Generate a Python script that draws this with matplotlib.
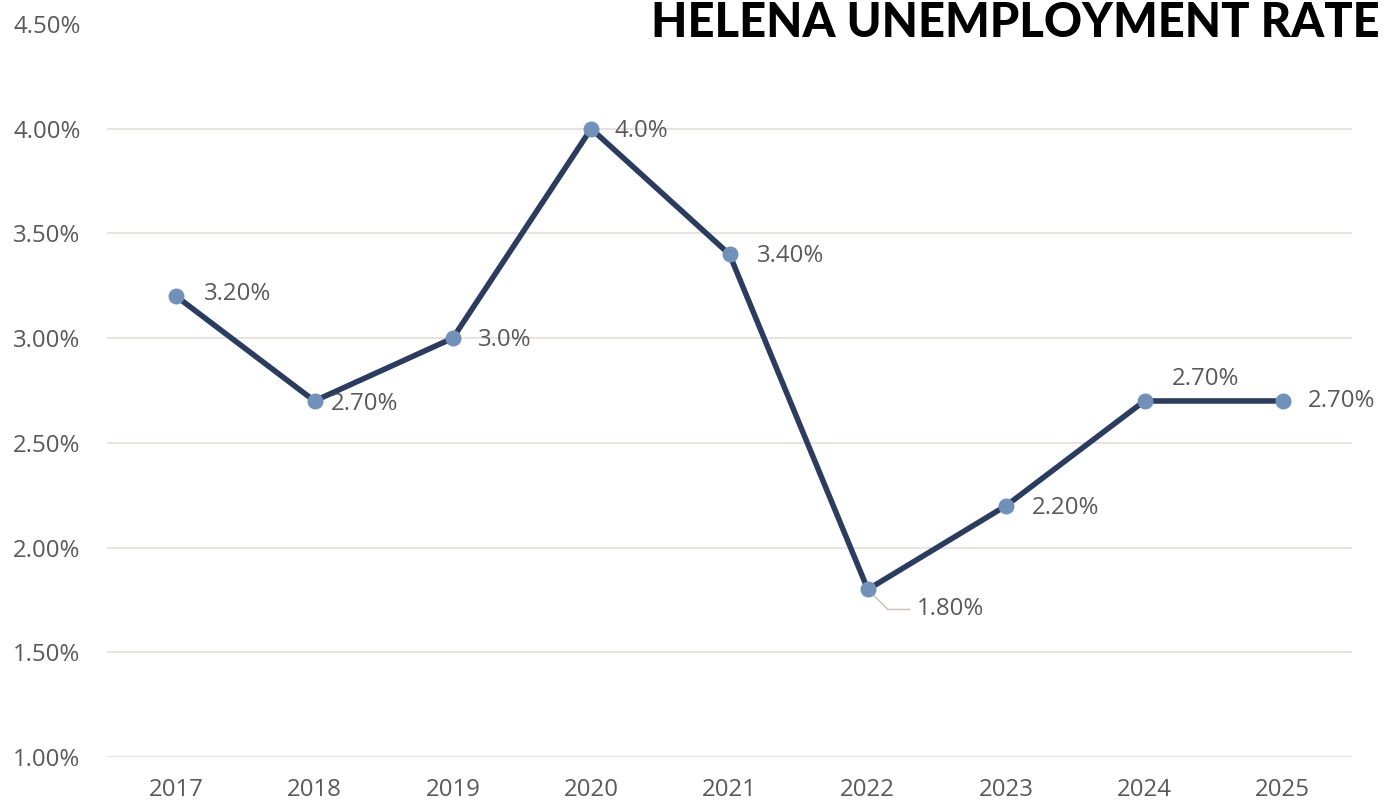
import matplotlib
matplotlib.use("Agg")
import matplotlib.pyplot as plt

years = ["2017", "2018", "2019", "2020", "2021", "2022", "2023", "2024", "2025"]
rates = [3.2, 2.7, 3.0, 4.0, 3.4, 1.8, 2.2, 2.7, 2.7]
labels = ["3.20%", "2.70%", "3.0%", "4.0%", "3.40%", "1.80%", "2.20%", "2.70%", "2.70%"]
yticks = [1.0, 1.5, 2.0, 2.5, 3.0, 3.5, 4.0, 4.5]
ytick_labels = ["1.00%", "1.50%", "2.00%", "2.50%", "3.00%", "3.50%", "4.00%", "4.50%"]
title = "HELENA UNEMPLOYMENT RATE"

FS = 17.3
fig = plt.figure(figsize=(13.88, 8.08), dpi=100)
ax = fig.add_axes([107/1388, 51/808, (1352-107)/1388, (784-51)/808])

x = list(range(len(years)))
ax.plot(x, rates, color="#2C3C5E", linewidth=4.0, zorder=3)
ax.plot(x, rates, linestyle="none", marker="o", markersize=10.5,
        markerfacecolor="#7191B9", markeredgecolor="#7191B9", zorder=4)

ax.set_xlim(-0.5, len(years) - 0.5)
ax.set_ylim(1.0, 4.5)
ax.set_yticks(yticks)
ax.set_yticklabels(ytick_labels)
ax.set_xticks(x)
ax.set_xticklabels(years)

for t in ax.get_yticklabels() + ax.get_xticklabels():
    t.set_fontfamily("Open Sans")
    t.set_fontsize(FS)
    t.set_color("#595959")
ax.tick_params(axis="y", length=0, pad=19)
ax.tick_params(axis="x", length=0, pad=15)

ax.grid(axis="y", color="#E3DEDC", linewidth=1.2, zorder=0)
ax.grid(axis="x", visible=False)
ax.yaxis.get_gridlines()[-1].set_visible(False)
for s in ax.spines.values():
    s.set_visible(False)

# label offsets in pixels (dx, dy, ha)
offsets = [(28, 2, "left"), (16, -3, "left"), (25, -2, "left"), (23, -2, "left"),
           (27, -2, "left"), (49, -20, "left"), (26, -2, "left"), (61, 22, "center"),
           (25, 0, "left")]
for i, (xx, yy, lab) in enumerate(zip(x, rates, labels)):
    dx, dy, ha = offsets[i]
    kw = dict(xytext=(dx, dy), textcoords="offset pixels", ha=ha, va="center",
              fontsize=FS, family="Open Sans", color="#595959")
    if i == 5:
        kw["arrowprops"] = dict(arrowstyle="-", color="#C9BFB8", lw=1,
                                connectionstyle="angle,angleA=0,angleB=-45,rad=0",
                                shrinkA=3, shrinkB=6)
    ax.annotate(lab, (xx, yy), **kw)

fig.text(1380/1388, 1 - 37/808, title, ha="right", va="baseline",
         fontsize=33.8, fontweight="black", family="Lato", color="black")

fig.savefig("out.png", dpi=100, facecolor="white")
